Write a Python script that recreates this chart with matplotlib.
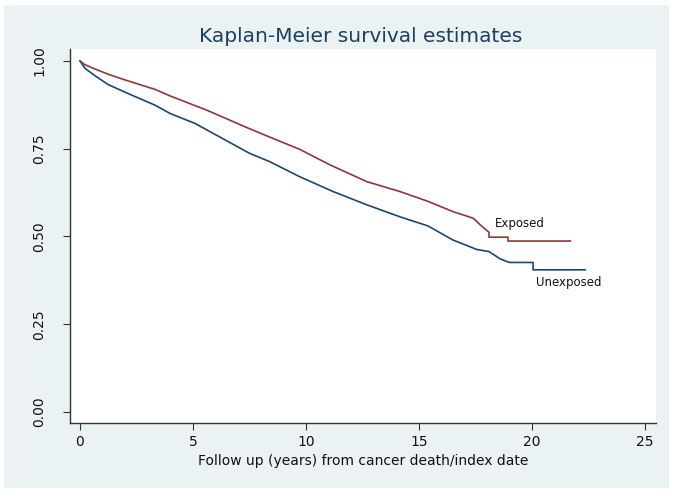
import matplotlib
matplotlib.use("Agg")
import matplotlib.pyplot as plt
from matplotlib.patches import Rectangle

# Kaplan-Meier estimates
exp_time = [0, 0.2, 0.66, 1.3, 1.99, 3.32, 4.0, 5.0, 5.53, 7.5, 8.4, 9.73, 11.06, 12.7, 14.16, 15.4, 16.5, 17.4, 17.8, 18.1, 18.1, 18.94, 18.94, 21.7]
exp_surv = [1.000, 0.990, 0.977, 0.961, 0.946, 0.919, 0.900, 0.875, 0.862, 0.807, 0.783, 0.748, 0.704, 0.656, 0.628, 0.600, 0.571, 0.552, 0.528, 0.512, 0.498, 0.498, 0.487, 0.487]

unexp_time = [0, 0.22, 0.66, 1.24, 1.99, 3.32, 4.0, 5.09, 7.5, 8.4, 9.73, 11.2, 12.7, 14.16, 15.4, 16.5, 17.56, 18.1, 18.6, 19.0, 20.05, 20.05, 22.35]
unexp_surv = [1.000, 0.979, 0.958, 0.933, 0.911, 0.874, 0.850, 0.822, 0.737, 0.713, 0.670, 0.628, 0.590, 0.556, 0.530, 0.490, 0.463, 0.457, 0.436, 0.426, 0.426, 0.405, 0.405]

x_ticks = [0, 5, 10, 15, 20, 25]
y_ticks = [0.0, 0.25, 0.5, 0.75, 1.0]
y_ticklabels = ["0.00", "0.25", "0.50", "0.75", "1.00"]

W, H = 676, 493
fig = plt.figure(figsize=(W / 100, H / 100), dpi=100, facecolor="white")
bg = Rectangle((4 / W, 5 / H), (669 - 4) / W, (488 - 5) / H, transform=fig.transFigure,
               facecolor="#eaf2f3", edgecolor="none", zorder=-10)
fig.patches.append(bg)

left, right, top, bottom = 70, 656, 49, 423
ax = fig.add_axes([left / W, 1 - bottom / H, (right - left) / W, (bottom - top) / H])
ax.set_facecolor("white")

navy = "#1a476f"
maroon = "#90353b"
ax.plot(unexp_time, unexp_surv, color=navy, lw=1.2)
ax.plot(exp_time, exp_surv, color=maroon, lw=1.2)

ax.set_xlim(-0.442, 25.49)
ax.set_ylim(-0.0313, 1.034)
ax.set_xticks(x_ticks)
ax.set_yticks(y_ticks)
ax.set_yticklabels(y_ticklabels, rotation=90, va="center")
for s in ["top", "right"]:
    ax.spines[s].set_visible(False)
for s in ["left", "bottom"]:
    ax.spines[s].set_color("#333333")
    ax.spines[s].set_linewidth(1.0)
ax.tick_params(axis="both", direction="out", length=5, width=0.8, color="#333333",
               labelsize=10, labelcolor="#111111", pad=4)
ax.tick_params(axis="y", pad=12)

ax.text(18.36, 0.536, "Exposed", fontsize=8.5, color="#111111", va="center", ha="left")
ax.text(20.2, 0.368, "Unexposed", fontsize=8.5, color="#111111", va="center", ha="left")

ax.set_xlabel("Follow up (years) from cancer death/index date", fontsize=10, color="#111111", labelpad=3)
fig.text(361 / W, 1 - 36 / H, "Kaplan-Meier survival estimates", fontsize=14.5, color="#1f3f5f",
         ha="center", va="center")

fig.savefig("out.png", dpi=100, facecolor="white")
